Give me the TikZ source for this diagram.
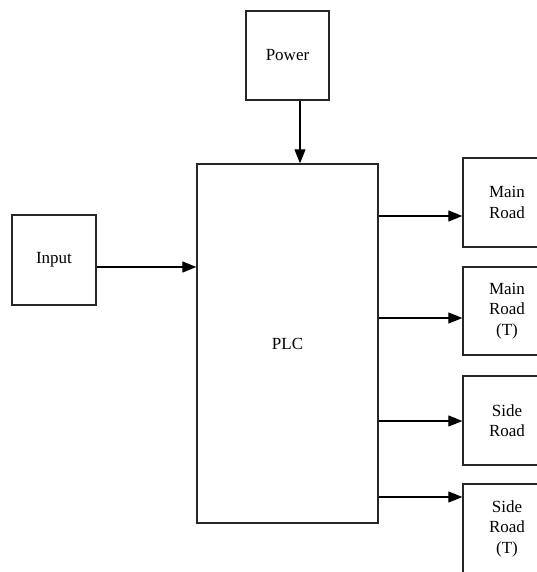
\documentclass[tikz,border=0pt]{standalone}
\usepackage{fontspec}
\setmainfont{Liberation Serif}
\usetikzlibrary{arrows.meta}
\begin{document}
\begin{tikzpicture}[x=1pt,y=-1pt,
  blk/.style={draw=black!85,line width=1.3pt,fill=white,inner sep=0pt,align=center,
    font=\fontsize{17}{20.5}\selectfont},
  arr/.style={line width=1.1pt,-{Triangle[length=14pt,width=11pt]}}]
\useasboundingbox (0,0) rectangle (537,572);
\node[blk,minimum width=83pt,minimum height=89pt] (power) at (287.5,55.5) {Power};
\node[blk,minimum width=181pt,minimum height=359pt] (plc) at (287.5,343.5) {PLC};
\node[blk,minimum width=84pt,minimum height=90pt] (input) at (54,260) {Input};
\node[blk,minimum width=88pt,minimum height=89pt] (mr) at (507,202.5) {Main\\Road};
\node[blk,minimum width=88pt,minimum height=88pt] (mrt) at (507,311) {Main\\Road\\(T)};
\node[blk,minimum width=88pt,minimum height=89pt] (sr) at (507,420.5) {Side\\Road};
\node[blk,minimum width=88pt,minimum height=89pt] (srt) at (507,528.5) {Side\\Road\\(T)};
\coordinate (px) at (300,0);
\coordinate (iy) at (0,267);
\coordinate (a1) at (0,216);
\coordinate (a2) at (0,318);
\coordinate (a3) at (0,421);
\coordinate (a4) at (0,497);
\draw[arr] (power.south -| px) -- (plc.north -| px);
\draw[arr] (input.east |- iy) -- (plc.west |- iy);
\draw[arr] (plc.east |- a1) -- (mr.west |- a1);
\draw[arr] (plc.east |- a2) -- (mrt.west |- a2);
\draw[arr] (plc.east |- a3) -- (sr.west |- a3);
\draw[arr] (plc.east |- a4) -- (srt.west |- a4);
\end{tikzpicture}
\end{document}
